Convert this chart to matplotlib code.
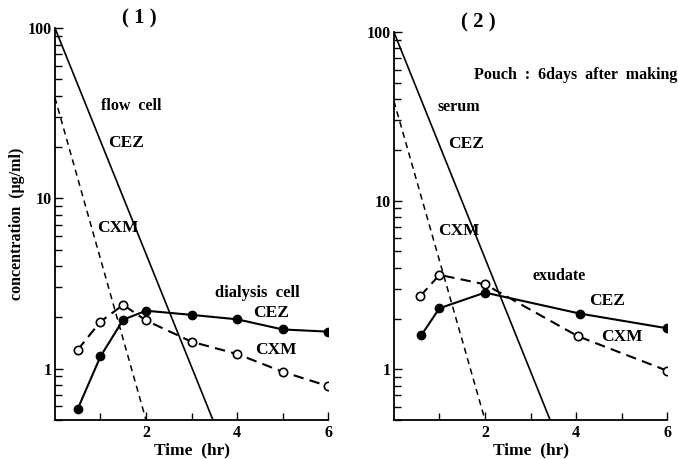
import numpy as np
import matplotlib.pyplot as plt
from matplotlib.ticker import FixedLocator, LogLocator, NullFormatter

plt.rcParams['font.family'] = ['Liberation Serif', 'DejaVu Serif']
plt.rcParams['font.weight'] = 'bold'

# ---- panel (1): flow cell (straight decay lines) ----
flow_t_cez = [0, 3.47]
flow_cez = [100, 0.5]
flow_t_cxm = [0, 2.0]
flow_cxm = [39, 0.5]

# ---- panel (1): dialysis cell ----
dial_t = [0.5, 1, 1.5, 2, 3, 4, 5, 6]
dial_cez = [0.58, 1.18, 1.94, 2.19, 2.07, 1.95, 1.70, 1.65]
dial_cxm = [1.29, 1.89, 2.37, 1.92, 1.44, 1.22, 0.96, 0.79]

# ---- panel (2): serum (straight decay lines) ----
serum_t_cez = [0, 3.43]
serum_cez = [100, 0.5]
serum_t_cxm = [0, 2.0]
serum_cxm = [39, 0.5]

# ---- panel (2): exudate ----
exu_t = [0.6, 1, 2, 4.08, 6]
exu_cez = [1.59, 2.30, 2.85, 2.14, 1.75]
exu_t_cxm = [0.58, 1, 2, 4.04, 6]
exu_cxm = [2.72, 3.63, 3.19, 1.57, 0.98]

fig = plt.figure(figsize=(6.78, 4.59), dpi=100)
ax1 = fig.add_axes([0.081, 0.085, 0.403, 0.854])
ax2 = fig.add_axes([0.581, 0.085, 0.403, 0.845])


def style_axis(ax):
    ax.set_yscale('log')
    ax.set_xlim(0, 6)
    ax.set_ylim(0.5, 100)
    for s in ['top', 'right']:
        ax.spines[s].set_visible(False)
    for s in ['left', 'bottom']:
        ax.spines[s].set_linewidth(1.3)
    ax.xaxis.set_major_locator(FixedLocator([2, 4, 6]))
    ax.xaxis.set_minor_locator(FixedLocator([1, 3, 5]))
    ax.set_xticklabels(['2', '4', '6'])
    ax.yaxis.set_major_locator(FixedLocator([1, 10, 100]))
    ax.set_yticklabels(['1', '10', '100'])
    ax.yaxis.set_minor_locator(LogLocator(base=10, subs=np.arange(2, 10)))
    ax.yaxis.set_minor_formatter(NullFormatter())
    ax.tick_params(which='both', direction='in', labelsize=11.5, width=1)
    ax.tick_params(which='major', length=6)
    ax.tick_params(which='minor', length=5)
    ax.tick_params(axis='y', pad=2)
    ax.set_xlabel('Time  (hr)', fontsize=12.5, fontweight='bold', labelpad=1)


style_axis(ax1)
style_axis(ax2)

txt = dict(ha='left', va='center')

# panel 1
ax1.plot(flow_t_cez, flow_cez, color='black', lw=1.2)
ax1.plot(flow_t_cxm, flow_cxm, color='black', lw=1.1, ls=(0, (4, 3)))
ax1.plot(dial_t, dial_cez, color='black', lw=1.5, marker='o', ms=6,
         mfc='black', mec='black')
ax1.plot(dial_t, dial_cxm, color='black', lw=1.5, ls=(0, (5, 3)), marker='o',
         ms=6, mfc='white', mec='black', mew=1.2)

ax1.text(1.02, 35, 'flow  cell', fontsize=11.5, **txt)
ax1.text(1.16, 21.1, 'CEZ', fontsize=12.5, **txt)
ax1.text(0.92, 6.66, 'CXM', fontsize=12.5, **txt)
ax1.text(3.52, 2.80, 'dialysis  cell', fontsize=12, **txt)
ax1.text(4.35, 2.11, 'CEZ', fontsize=12.5, **txt)
ax1.text(4.40, 1.28, 'CXM', fontsize=12.5, **txt)
ax1.set_title('( 1 )', fontsize=15, fontweight='bold', pad=-2, x=0.31)
ax1.set_ylabel('concentration  (\u03bcg/ml)', fontsize=11.5, fontweight='bold',
               labelpad=2)

# panel 2
ax2.plot(serum_t_cez, serum_cez, color='black', lw=1.2)
ax2.plot(serum_t_cxm, serum_cxm, color='black', lw=1.1, ls=(0, (4, 3)))
ax2.plot(exu_t, exu_cez, color='black', lw=1.5, marker='o', ms=6,
         mfc='black', mec='black')
ax2.plot(exu_t_cxm, exu_cxm, color='black', lw=1.5, ls=(0, (5, 3)), marker='o',
         ms=6, mfc='white', mec='black', mew=1.2)

ax2.text(1.75, 56, 'Pouch  :  6days  after  making', fontsize=11.5, **txt)
ax2.text(0.96, 36, 'serum', fontsize=11.5, **txt)
ax2.text(1.20, 21.8, 'CEZ', fontsize=12.5, **txt)
ax2.text(0.96, 6.63, 'CXM', fontsize=12.5, **txt)
ax2.text(3.05, 3.58, 'exudate', fontsize=11.5, **txt)
ax2.text(4.29, 2.54, 'CEZ', fontsize=12.5, **txt)
ax2.text(4.55, 1.55, 'CXM', fontsize=12.5, **txt)
ax2.set_title('( 2 )', fontsize=15, fontweight='bold', pad=0, x=0.31)

fig.savefig('out.png', dpi=100)
